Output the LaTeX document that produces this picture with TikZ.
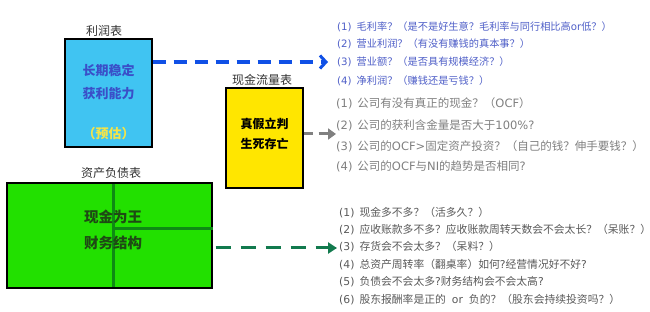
\documentclass[tikz,border=0pt]{standalone}
\usepackage{fontspec}
\setmainfont{Noto Sans CJK SC}
\newfontfamily\latinf{DejaVu Sans}
\newcommand\lt[1]{{\latinf #1}}
\newcommand\qn[1]{\lt{(#1)}\hspace{5pt}}
\usetikzlibrary{arrows.meta}
\definecolor{boxblue}{HTML}{40C4F2}
\definecolor{boxyellow}{HTML}{FFE600}
\definecolor{boxgreen}{HTML}{22E000}
\definecolor{inkblue}{HTML}{3A4FC8}
\definecolor{qblue}{HTML}{4F5FC8}
\definecolor{qgray}{HTML}{808080}
\definecolor{qgreen}{HTML}{5A5A5A}
\definecolor{arrblue}{HTML}{1050E6}
\definecolor{arrgray}{HTML}{808080}
\definecolor{arrgreen}{HTML}{127A4E}
\definecolor{divgreen}{HTML}{0E8A14}
\definecolor{preyellow}{HTML}{F2E44A}
\definecolor{inkgreen}{HTML}{1E4A14}
\begin{document}
\begin{tikzpicture}[x=1pt,y=-1pt,
  title/.style={font=\fontsize{12}{14}\selectfont, text=black!80},
  stmt/.style={draw=black, line width=1.2pt, inner sep=0pt},
  qline/.style={anchor=west, inner sep=0pt},
  qb/.style={qline, text=qblue, font=\fontsize{10.2}{12}\selectfont},
  qg/.style={qline, text=qgray, font=\fontsize{11.5}{13}\selectfont},
  qr/.style={qline, text=qgreen, font=\fontsize{10.8}{12}\selectfont},
  boxtxt/.style={font=\fontsize{13}{15}\selectfont\bfseries, inner sep=0pt}]
\useasboundingbox (0,0) rectangle (650,312);
\fill[white] (0,0) rectangle (650,312);

% income statement
\node[title] (t1) at (104,31) {利润表};
\node[stmt, fill=boxblue, minimum width=87pt, minimum height=108pt] (blue) at (108.5,93) {};
\node[boxtxt, text=inkblue] (b1) at (108.5,70) {长期稳定};
\node[boxtxt, text=inkblue] (b2) at (108.5,94) {获利能力};
\node[boxtxt, text=preyellow] (b3) at (108.5,134) {（预估）};

% cash flow statement
\node[title] (t2) at (262,80) {现金流量表};
\node[stmt, fill=boxyellow, minimum width=77pt, minimum height=100pt] (yellow) at (264.5,138) {};
\node[boxtxt, text=black, font=\fontsize{12}{14}\selectfont\bfseries] (y1) at (264.5,124) {真假立判};
\node[boxtxt, text=black, font=\fontsize{12}{14}\selectfont\bfseries] (y2) at (264.5,144) {生死存亡};

% balance sheet
\node[title] (t3) at (111,173) {资产负债表};
\node[stmt, fill=boxgreen, minimum width=205pt, minimum height=105pt] (green) at (109.5,235.5) {};
\coordinate (vtop) at (113,184.5);
\coordinate (vbot) at (113,286.5);
\coordinate (hmid) at (113,229);
\draw[divgreen, line width=3pt] (vtop) -- (vbot);
\draw[divgreen, line width=3pt] (hmid) -- (hmid -| green.east);
\node[inner sep=0pt, text=inkgreen, font=\fontsize{14.5}{16}\selectfont\bfseries] (g1) at (113,217) {现金为王};
\node[inner sep=0pt, text=inkgreen, font=\fontsize{14.5}{16}\selectfont\bfseries] (g2) at (113,243) {财务结构};

% blue questions
\node[qb] (q11) at (337,27) {\qn{1}毛利率？（是不是好生意？毛利率与同行相比高\lt{or}低？）};
\node[qb] (q12) at (337,44) {\qn{2}营业利润？（有没有赚钱的真本事？）};
\node[qb] (q13) at (337,62) {\qn{3}营业额？（是否具有规模经济？）};
\node[qb] (q14) at (337,81) {\qn{4}净利润？（赚钱还是亏钱？）};

% gray questions
\node[qg] (q21) at (336,103) {\qn{1}公司有没有真正的现金？（\lt{OCF}）};
\node[qg] (q22) at (336,125) {\qn{2}公司的获利含金量是否大于\lt{100\%?}};
\node[qg] (q23) at (336,146) {\qn{3}公司的\lt{OCF>}固定资产投资？（自己的钱？伸手要钱？）};
\node[qg] (q24) at (336,166) {\qn{4}公司的\lt{OCF}与\lt{NI}的趋势是否相同\lt{?}};

% green questions
\node[qr] (q31) at (339,213) {\qn{1}现金多不多？（活多久？）};
\node[qr] (q32) at (339,230) {\qn{2}应收账款多不多？应收账款周转天数会不会太长？（呆账？）};
\node[qr] (q33) at (339,247) {\qn{3}存货会不会太多？（呆料？）};
\node[qr] (q34) at (339,265) {\qn{4}总资产周转率（翻桌率）如何\lt{?}经营情况好不好\lt{?}};
\node[qr] (q35) at (339,282) {\qn{5}负债会不会太多\lt{?}财务结构会不会太高\lt{?}};
\node[qr] (q36) at (339,300) {\qn{6}股东报酬率是正的\hspace{6pt}\lt{or}\hspace{6pt}负的？（股东会持续投资吗？）};

% arrows
\coordinate (ab) at (328,62);
\draw[arrblue, line width=4pt, dash pattern=on 13pt off 8pt,
  -{Straight Barb[length=6pt,width=13pt,line width=3pt]}] (blue.east |- ab) -- (ab);
\coordinate (ag) at (336,134);
\draw[arrgray, line width=3pt, dash pattern=on 9pt off 6pt,
  -{Triangle[length=8pt,width=11pt]}] (yellow.east |- ag) -- (ag);
\coordinate (agr) at (337,248);
\draw[arrgreen, line width=3pt, dash pattern=on 15pt off 10pt,
  -{Triangle[length=9pt,width=11pt]}] ([xshift=3pt]green.east |- agr) -- (agr);
\end{tikzpicture}
\end{document}
